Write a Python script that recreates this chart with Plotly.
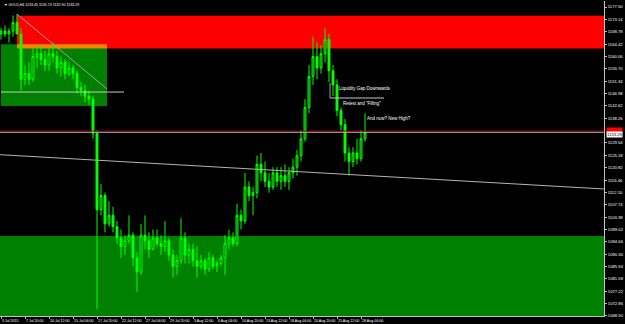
import plotly.graph_objects as go

# ---- data (aggregated H4 candles, GOLD Jul-Aug 2015) ----
OPEN = [1168, 1169, 1168, 1169, 1172, 1168, 1152, 1154, 1152, 1160,
        1161, 1159, 1157, 1161, 1160, 1156, 1158, 1154, 1156, 1154,
        1149, 1148, 1146, 1145, 1133, 1106, 1111, 1101, 1104, 1100,
        1096, 1093, 1095, 1097, 1089, 1084, 1097, 1095, 1092, 1096,
        1094, 1093, 1095, 1090, 1086, 1088, 1096, 1090, 1092, 1088,
        1086, 1088, 1085, 1089, 1086, 1087, 1089, 1094, 1096, 1094,
        1104, 1102, 1114, 1111, 1112, 1122, 1119, 1116, 1114, 1119,
        1116, 1118, 1116, 1119, 1121, 1125, 1131, 1142, 1153, 1160,
        1156, 1161, 1166, 1155, 1150, 1141, 1136, 1126, 1123, 1126,
        1124, 1131]
HIGH = [1170, 1171, 1170, 1174.5, 1175, 1170, 1157, 1158, 1163, 1164,
        1164, 1162, 1163, 1165, 1162, 1160, 1159, 1158, 1157, 1155,
        1151, 1150, 1148, 1146, 1134, 1115, 1112, 1109, 1107, 1102,
        1099, 1097, 1104, 1098, 1091, 1101, 1104, 1098, 1099, 1099,
        1097, 1102, 1096, 1092, 1090, 1103, 1098, 1094, 1094, 1093,
        1090, 1089, 1091, 1090, 1088, 1090, 1097, 1099, 1098, 1108,
        1106, 1119, 1116, 1114, 1125, 1126, 1123, 1119, 1121, 1121,
        1121, 1122, 1121, 1124, 1127, 1134, 1145, 1157, 1167, 1165,
        1164, 1170, 1168, 1157, 1152, 1142, 1138, 1128, 1128, 1131,
        1134, 1140]
LOW = [1166, 1167, 1165, 1167, 1168, 1148, 1150, 1150, 1151, 1156,
       1157, 1155, 1155, 1158, 1154, 1153, 1152, 1153, 1152, 1147,
       1146, 1144, 1143, 1131, 1071, 1104, 1098, 1100, 1098, 1094,
       1089, 1090, 1094, 1086, 1077, 1083, 1092, 1089, 1092, 1093,
       1090, 1091, 1088, 1082, 1083, 1087, 1087, 1087, 1086, 1082,
       1085, 1083, 1084, 1085, 1084, 1086, 1083, 1092, 1093, 1093,
       1099, 1101, 1109, 1104, 1110, 1116, 1114, 1112, 1113, 1114,
       1113, 1114, 1113, 1117, 1118, 1123, 1130, 1140, 1150, 1152,
       1154, 1158, 1151, 1146, 1139, 1134, 1123, 1118, 1121, 1122,
       1123, 1130]
CLOSE = [1169, 1168, 1169, 1172, 1168, 1152, 1154, 1152, 1160, 1161,
         1159, 1157, 1161, 1160, 1156, 1158, 1154, 1156, 1154, 1149,
         1148, 1146, 1145, 1133, 1106, 1111, 1101, 1104, 1100, 1096,
         1093, 1095, 1097, 1089, 1084, 1097, 1095, 1092, 1096, 1094,
         1093, 1095, 1090, 1086, 1088, 1096, 1090, 1092, 1088, 1086,
         1088, 1085, 1089, 1086, 1087, 1089, 1094, 1096, 1094, 1104,
         1102, 1114, 1111, 1112, 1122, 1119, 1116, 1114, 1119, 1116,
         1118, 1116, 1119, 1121, 1125, 1131, 1142, 1153, 1160, 1156,
         1161, 1166, 1155, 1150, 1141, 1136, 1126, 1123, 1126, 1124,
         1131, 1133.29]

X_LABELS = ["3 Jul 2015", "7 Jul 20:00", "10 Jul 12:00", "15 Jul 04:00",
            "17 Jul 20:00", "22 Jul 12:00", "27 Jul 04:00", "29 Jul 20:00",
            "3 Aug 12:00", "6 Aug 04:00", "10 Aug 20:00", "13 Aug 12:00",
            "18 Aug 04:00", "20 Aug 20:00", "25 Aug 12:00", "28 Aug 04:00"]
BARS_PER_LABEL = 6

Y_TICKS = [1177.50, 1173.14, 1168.78, 1164.42, 1160.06, 1155.70, 1151.34,
           1146.98, 1142.62, 1138.26, 1129.54, 1125.18, 1120.82,
           1116.46, 1112.10, 1107.74, 1103.38, 1099.02, 1094.66, 1090.30,
           1085.94, 1081.58, 1077.22, 1072.86, 1068.50]

TITLE = "\u25bc GOLD,H4 1133.45 1135.73 1132.90 1133.29"
BID = 1133.29
ASK = 1133.75

Y_RANGE = [1068.49, 1179.62]
X_RANGE = [-0.25, 150.75]

# zones: (x0, x1, y0, y1)
RED_ZONE = (4, 150.75, 1162.9, 1174.4)
GREEN_TOP = (0, 26.5, 1142.6, 1164.4)
GREEN_BOTTOM = (-0.25, 150.75, 1068.49, 1096.7)

# lines: (x0, y0, x1, y1, color)
LINES = [
    (-0.25, 1125.4, 150.75, 1113.3, "#b4b4b4"),
    (4, 1175.0, 26.5, 1148.6, "#a0a0a0"),
    (0, 1147.5, 30.75, 1147.5, "#c8c8c8"),
    (82.25, 1145.4, 95.75, 1145.4, "#c8c8c8"),
    (82.25, 1150.7, 82.25, 1145.4, "#a0a0a0"),
]

NOTES = [
    (84, 1148.6, "Liquidity Gap Downwards"),
    (85, 1143.3, "Retest and \"Filling\""),
    (91, 1138.0, "And now? New High?"),
]

FONT = "Liberation Sans, Arial, sans-serif"

fig = go.Figure()
fig.add_trace(go.Candlestick(
    x=list(range(len(OPEN))), open=OPEN, high=HIGH, low=LOW, close=CLOSE,
    increasing=dict(line=dict(color="#00ff00", width=1), fillcolor="#007000"),
    decreasing=dict(line=dict(color="#00ff00", width=1), fillcolor="#00ff00"),
    whiskerwidth=0, showlegend=False, hoverinfo="skip",
))

shapes = []
shapes.append(dict(type="rect", xref="x", yref="y", x0=RED_ZONE[0], x1=RED_ZONE[1],
                   y0=RED_ZONE[2], y1=RED_ZONE[3], fillcolor="#ff0000", line_width=0, layer="below"))
shapes.append(dict(type="rect", xref="x", yref="y", x0=GREEN_TOP[0], x1=GREEN_TOP[1],
                   y0=GREEN_TOP[2], y1=GREEN_TOP[3], fillcolor="#008000", line_width=0, layer="below"))
# overlap of red and green zones blends to orange
ox0 = max(RED_ZONE[0], GREEN_TOP[0]); ox1 = min(RED_ZONE[1], GREEN_TOP[1])
oy0 = max(RED_ZONE[2], GREEN_TOP[2]); oy1 = min(RED_ZONE[3], GREEN_TOP[3])
shapes.append(dict(type="rect", xref="x", yref="y", x0=ox0, x1=ox1, y0=oy0, y1=oy1,
                   fillcolor="#ff8000", line_width=0, layer="below"))
shapes.append(dict(type="rect", xref="x", yref="y", x0=GREEN_BOTTOM[0], x1=GREEN_BOTTOM[1],
                   y0=GREEN_BOTTOM[2], y1=GREEN_BOTTOM[3], fillcolor="#008000", line_width=0, layer="below"))
for (x0, y0, x1, y1, c) in LINES:
    shapes.append(dict(type="line", xref="x", yref="y", x0=x0, y0=y0, x1=x1, y1=y1,
                       line=dict(color=c, width=1), layer="above"))
# ask / bid lines
shapes.append(dict(type="line", xref="paper", yref="y", x0=0, x1=1, y0=ASK, y1=ASK,
                   line=dict(color="#a00000", width=1)))
shapes.append(dict(type="line", xref="paper", yref="y", x0=0, x1=1, y0=BID, y1=BID,
                   line=dict(color="#b0b0b0", width=1)))

annotations = []
for (x, y, t) in NOTES:
    annotations.append(dict(x=x, y=y, xref="x", yref="y", text=t, showarrow=False,
                            xanchor="left", yanchor="middle",
                            font=dict(family=FONT, size=4.5, color="#ffffff")))
annotations.append(dict(x=0.004, y=1, xref="paper", yref="paper", text=TITLE, showarrow=False,
                        xanchor="left", yanchor="top",
                        font=dict(family=FONT, size=3.6, color="#ffffff")))
annotations.append(dict(x=1, y=ASK + 0.35, xref="paper", yref="y", xanchor="left", yanchor="middle",
                        text="1133.75", showarrow=False, bgcolor="#ff0000", borderpad=0,
                        xshift=2, font=dict(family=FONT, size=4.2, color="#ff0000")))
annotations.append(dict(x=1, y=BID - 0.6, xref="paper", yref="y", xanchor="left", yanchor="middle",
                        text="1133.29", showarrow=False, bgcolor="#ffffff", borderpad=0,
                        xshift=2, font=dict(family=FONT, size=4.2, color="#000000")))
# x tick labels, left-aligned on their tick like the terminal does
for k, lab in enumerate(X_LABELS):
    annotations.append(dict(x=k * BARS_PER_LABEL, y=0, xref="x", yref="paper", text=lab,
                            showarrow=False, xanchor="left", yanchor="top", borderpad=0,
                            xshift=0, yshift=-1.5,
                            font=dict(family=FONT, size=3.6, color="#ffffff")))

fig.update_layout(
    template="none",
    width=625, height=324,
    margin=dict(l=0, r=21, t=1, b=8),
    paper_bgcolor="#000000", plot_bgcolor="#000000",
    shapes=shapes, annotations=annotations,
    showlegend=False,
    xaxis=dict(range=X_RANGE, rangeslider=dict(visible=False), showgrid=False, zeroline=False,
               tickvals=[k * BARS_PER_LABEL for k in range(len(X_LABELS))],
               showticklabels=False,
               ticks="outside", ticklen=2, tickcolor="#c0c0c0",
               showline=True, linecolor="#c0c0c0", linewidth=1, automargin=False),
    yaxis=dict(range=Y_RANGE, side="right", showgrid=False, zeroline=False,
               tickvals=Y_TICKS, ticktext=["%.2f" % v for v in Y_TICKS],
               ticks="outside", ticklen=2, tickcolor="#c0c0c0",
               showline=True, linecolor="#c0c0c0", linewidth=1,
               tickfont=dict(family=FONT, size=4.2, color="#ffffff"), automargin=False),
)

fig.write_html("out.html")
